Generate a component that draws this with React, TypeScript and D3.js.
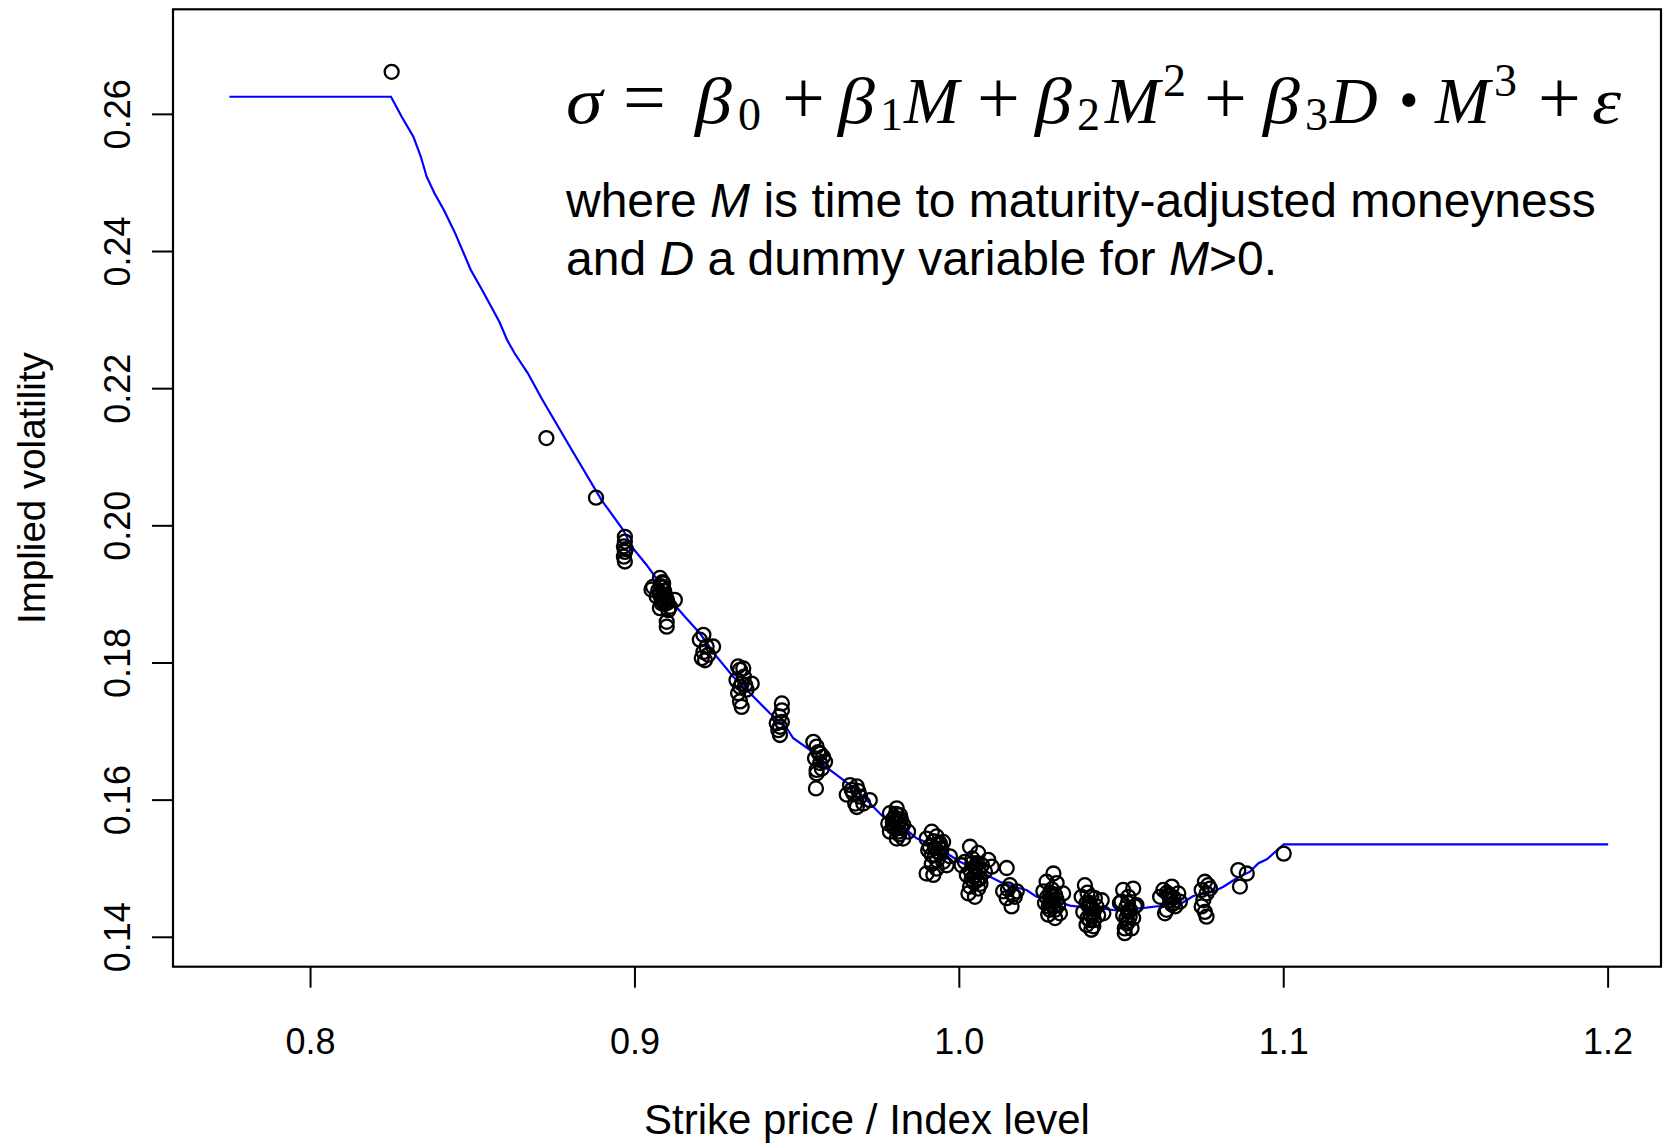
import React from "react";
import * as d3 from "d3";

// ---------- data ----------
const xTicks = [0.8, 0.9, 1.0, 1.1, 1.2];
const xTickLabels = ["0.8", "0.9", "1.0", "1.1", "1.2"];
const yTicks = [0.14, 0.16, 0.18, 0.2, 0.22, 0.24, 0.26];
const yTickLabels = ["0.14", "0.16", "0.18", "0.20", "0.22", "0.24", "0.26"];

// isolated observations (strike / index, implied vol)
const wingObs: [number, number][] = [
  [0.825, 0.2662], [0.8727, 0.2128], [0.888, 0.2041], [1.1, 0.1522],
];
const obsA: [number, number][] = [
  [0.8969, 0.1984], [0.8969, 0.1977], [0.8966, 0.197], [0.8969, 0.1962], [0.8966, 0.1955], [0.8969, 0.1948], [0.8972, 0.1966],
  [0.9051, 0.1907], [0.9077, 0.1924], [0.9087, 0.1916], [0.9056, 0.1911], [0.9067, 0.1897], [0.9072, 0.1906], [0.9082, 0.1887],
  [0.9098, 0.1892], [0.9093, 0.1899], [0.9123, 0.1892], [0.9108, 0.1882], [0.9077, 0.188], [0.9103, 0.1877], [0.9098, 0.186],
  [0.9098, 0.1853], [0.9087, 0.191], [0.9077, 0.19], [0.9092, 0.1886], [0.9085, 0.1918],
  [0.909, 0.1905], [0.9095, 0.1895], [0.9082, 0.1893], [0.91, 0.1888], [0.9088, 0.1889], [0.908, 0.1912],
  [0.92, 0.1834], [0.9211, 0.1841], [0.9221, 0.1824], [0.9241, 0.1824], [0.9206, 0.1807], [0.9226, 0.1812], [0.9211, 0.1816], [0.9216, 0.1804],
];
const obsB: [number, number][] = [
  [0.9318, 0.1795], [0.9334, 0.1792], [0.9324, 0.179], [0.9313, 0.1775], [0.9329, 0.177], [0.936, 0.177], [0.9324, 0.1765],
  [0.9344, 0.1761], [0.9318, 0.1756], [0.9324, 0.1744], [0.9329, 0.1736], [0.9336, 0.178], [0.934, 0.1768],
  [0.9453, 0.1741], [0.9453, 0.1731], [0.9445, 0.1722], [0.9453, 0.1714], [0.9437, 0.1712], [0.9447, 0.1707], [0.9442, 0.1702], [0.9447, 0.1695],
  [0.955, 0.1685], [0.956, 0.1678], [0.9571, 0.1668], [0.9555, 0.1661], [0.9586, 0.1656], [0.958, 0.1663], [0.956, 0.1644],
  [0.9576, 0.1646], [0.956, 0.1639], [0.9571, 0.1654], [0.9558, 0.1617], [0.9565, 0.167],
];
const obsC: [number, number][] = [
  [0.9668, 0.1615], [0.9684, 0.162], [0.9653, 0.1608], [0.9694, 0.1605], [0.9724, 0.16], [0.9679, 0.1595], [0.9704, 0.1595],
  [0.9684, 0.159], [0.9663, 0.1622], [0.9689, 0.1613], [0.9673, 0.161],
  [0.9807, 0.1588], [0.9786, 0.1581], [0.9817, 0.1578], [0.9801, 0.1569], [0.9781, 0.1566], [0.9827, 0.1564], [0.9796, 0.1561],
  [0.9812, 0.1559], [0.9786, 0.1554], [0.9812, 0.1554], [0.9842, 0.1554], [0.9807, 0.1544], [0.9827, 0.1544], [0.98, 0.1575],
  [0.9815, 0.157], [0.9795, 0.1572], [0.982, 0.1562],
  [0.9805, 0.158], [0.981, 0.1565], [0.98, 0.156], [0.9815, 0.155], [0.9795, 0.1567], [0.982, 0.1572],
  [0.9915, 0.1554], [0.9899, 0.1544], [0.993, 0.1547], [0.995, 0.1539], [0.9904, 0.1527], [0.9935, 0.1525], [0.9971, 0.1518],
  [0.995, 0.151], [0.9899, 0.1493], [0.992, 0.1491], [0.9961, 0.1505], [0.994, 0.1537], [0.9909, 0.1532], [0.9925, 0.152],
  [0.9931, 0.1512], [0.9915, 0.1507], [0.9945, 0.1528],
  [0.992, 0.154], [0.9935, 0.1535], [0.9925, 0.153], [0.9915, 0.152], [0.994, 0.1522], [0.993, 0.15],
];
const obsD: [number, number][] = [
  [1.0033, 0.1532], [1.0058, 0.1523], [1.0017, 0.151], [1.0089, 0.1513], [1.0048, 0.1503], [1.0079, 0.1496], [1.0023, 0.1491],
  [1.0064, 0.1486], [1.0033, 0.1474], [1.0058, 0.1471], [1.0028, 0.1464], [1.0048, 0.1459], [1.0007, 0.1505], [1.01, 0.1503],
  [1.004, 0.1515], [1.0055, 0.1508], [1.007, 0.1505], [1.0035, 0.1497], [1.005, 0.149], [1.0045, 0.148], [1.0065, 0.1478],
  [1.004, 0.1508], [1.005, 0.15], [1.006, 0.1495], [1.0045, 0.1488], [1.0055, 0.1483], [1.0038, 0.1485],
  [1.0146, 0.1501], [1.0156, 0.1476], [1.0135, 0.1467], [1.0177, 0.1467], [1.0146, 0.1457], [1.0171, 0.1459], [1.0161, 0.1445],
  [1.015, 0.147], [1.0165, 0.1462],
  [1.029, 0.1493], [1.0269, 0.1481], [1.03, 0.1479], [1.0259, 0.1467], [1.032, 0.1464], [1.0285, 0.1459], [1.0264, 0.145],
  [1.0305, 0.1447], [1.0279, 0.144], [1.031, 0.1435], [1.0274, 0.1433], [1.0295, 0.1428], [1.0285, 0.147], [1.0295, 0.1462],
  [1.028, 0.1452], [1.029, 0.1445], [1.027, 0.1458], [1.03, 0.1455],
  [1.028, 0.1465], [1.029, 0.1455], [1.0285, 0.1448], [1.0295, 0.144], [1.0275, 0.1445],
];
const obsE: [number, number][] = [
  [1.0387, 0.1476], [1.0377, 0.1459], [1.0407, 0.1459], [1.0439, 0.1454], [1.0392, 0.145], [1.0423, 0.1445], [1.0382, 0.1437],
  [1.0413, 0.1435], [1.0444, 0.1435], [1.0402, 0.1425], [1.0392, 0.1418], [1.0413, 0.1416], [1.0407, 0.1411], [1.0418, 0.1457],
  [1.0428, 0.1432], [1.04, 0.1445], [1.0395, 0.1465],
  [1.04, 0.145], [1.041, 0.1442], [1.0405, 0.1432], [1.0395, 0.1428], [1.0415, 0.1425],
  [1.0505, 0.1469], [1.0536, 0.1471], [1.0521, 0.1459], [1.0495, 0.145], [1.0546, 0.1447], [1.0526, 0.144], [1.0505, 0.1432],
  [1.0536, 0.1428], [1.0516, 0.142], [1.051, 0.1413], [1.0531, 0.1413], [1.05, 0.1452], [1.0541, 0.1445], [1.0521, 0.1437],
  [1.051, 0.1406], [1.0515, 0.1428],
  [1.052, 0.145], [1.0515, 0.1444], [1.0525, 0.143], [1.052, 0.1422],
  [1.0629, 0.1469], [1.0655, 0.1474], [1.0675, 0.1464], [1.0619, 0.1459], [1.065, 0.1454], [1.068, 0.1452], [1.0639, 0.144],
  [1.0665, 0.1445], [1.0634, 0.1435], [1.0645, 0.1462], [1.066, 0.1458], [1.0655, 0.1448],
  [1.064, 0.1465], [1.065, 0.146], [1.066, 0.145],
  [1.0757, 0.1481], [1.0767, 0.1476], [1.0747, 0.1469], [1.0762, 0.1464], [1.0752, 0.1454], [1.0747, 0.1445], [1.0757, 0.1437],
  [1.0762, 0.143], [1.0773, 0.1471],
  [1.086, 0.1498], [1.0886, 0.1493], [1.0865, 0.1474],
];

// fitted smile (blue line)
const fitLine: [number, number][] = [
  [0.775, 0.26257], [0.8248, 0.26257], [0.8281, 0.25966], [0.8317, 0.25674], [0.834, 0.25382], [0.8358, 0.25091],
  [0.8382, 0.24849], [0.8411, 0.24605], [0.8446, 0.24265], [0.8494, 0.2373], [0.8529, 0.23438], [0.8582, 0.22976],
  [0.8606, 0.2271], [0.8629, 0.22516], [0.867, 0.22224], [0.8712, 0.2186], [0.88, 0.21149], [0.8897, 0.20376],
  [0.8964, 0.19939], [0.899, 0.19696], [0.9036, 0.19429], [0.9077, 0.19162], [0.9118, 0.1887], [0.9154, 0.18675],
  [0.92, 0.18433], [0.9252, 0.18092], [0.9303, 0.178], [0.9355, 0.17558], [0.9416, 0.17266], [0.9468, 0.17048],
  [0.9488, 0.16902], [0.954, 0.16731], [0.9555, 0.16585], [0.9601, 0.1644], [0.9642, 0.16294], [0.9683, 0.16148],
  [0.9724, 0.15954], [0.9765, 0.15759], [0.9807, 0.15662], [0.9838, 0.15565], [0.9868, 0.15444], [0.992, 0.15346],
  [0.9961, 0.15225], [1.0002, 0.15102], [1.0043, 0.15006], [1.0084, 0.14908], [1.0125, 0.14811], [1.0166, 0.14738],
  [1.0207, 0.1469], [1.0238, 0.14592], [1.0289, 0.14544], [1.0341, 0.14461], [1.0392, 0.14432], [1.0433, 0.14423],
  [1.0474, 0.14398], [1.0495, 0.14388], [1.0536, 0.14413], [1.0577, 0.14432], [1.0618, 0.14456], [1.0649, 0.14496],
  [1.069, 0.1451], [1.0721, 0.14602], [1.0783, 0.14665], [1.0814, 0.14738], [1.0855, 0.1486], [1.0896, 0.14957],
  [1.0922, 0.15079], [1.0948, 0.15137], [1.1, 0.15356], [1.2, 0.15356],
];

// formula pieces: text, kind, x offset (px from formula start)
const formulaPieces: { t: string; k: "g" | "o" | "b" | "sub" | "sup" | "i"; dx: number }[] = [
  { t: "σ", k: "g", dx: 0 },
  { t: "=", k: "o", dx: 57 },
  { t: "β", k: "g", dx: 129 },
  { t: "0", k: "sub", dx: 172 },
  { t: "+", k: "o", dx: 216 },
  { t: "β", k: "g", dx: 272 },
  { t: "1", k: "sub", dx: 314 },
  { t: "M", k: "i", dx: 338 },
  { t: "+", k: "o", dx: 411 },
  { t: "β", k: "g", dx: 469 },
  { t: "2", k: "sub", dx: 511 },
  { t: "M", k: "i", dx: 539 },
  { t: "2", k: "sup", dx: 597 },
  { t: "+", k: "o", dx: 638 },
  { t: "β", k: "g", dx: 697 },
  { t: "3", k: "sub", dx: 739 },
  { t: "D", k: "i", dx: 764 },
  { t: "•", k: "b", dx: 833 },
  { t: "M", k: "i", dx: 869 },
  { t: "3", k: "sup", dx: 928 },
  { t: "+", k: "o", dx: 972 },
  { t: "ε", k: "g", dx: 1026 },
];

// ---------- layout ----------
const W = 1664;
const H = 1144;
const frame = { left: 173, right: 1661, top: 9.3, bottom: 966.7 };
const sans = "'Liberation Sans', Arial, Helvetica, sans-serif";
const serif = "'Liberation Serif', 'Times New Roman', serif";

export default function App() {
  const x = d3.scaleLinear().domain([0.7576, 1.2163]).range([frame.left, frame.right]);
  const y = d3.scaleLinear().domain([0.13571, 0.27532]).range([frame.bottom, frame.top]);
  const line = d3.line<[number, number]>().x((d) => x(d[0])).y((d) => y(d[1]));
  const allObs = [...wingObs, ...obsA, ...obsB, ...obsC, ...obsD, ...obsE];
  const fx = 566;
  const fy = 123;

  const renderPiece = (p: (typeof formulaPieces)[number], i: number) => {
    const px = fx + p.dx;
    switch (p.k) {
      case "g":
        return (
          <text key={i} transform={`translate(${px},${fy}) scale(1.12,1)`} fontSize={66} fontStyle="italic" fontFamily={serif}>
            {p.t}
          </text>
        );
      case "i":
        return (
          <text key={i} x={px} y={fy} fontSize={66} fontStyle="italic" fontFamily={serif}>
            {p.t}
          </text>
        );
      case "o":
        return (
          <text key={i} x={px} y={fy} fontSize={76} fontFamily={serif}>
            {p.t}
          </text>
        );
      case "b":
        return (
          <text key={i} x={px} y={fy - 4} fontSize={56} fontFamily={serif}>
            {p.t}
          </text>
        );
      case "sub":
        return (
          <text key={i} x={px} y={fy + 7} fontSize={46} fontFamily={serif}>
            {p.t}
          </text>
        );
      default:
        return (
          <text key={i} x={px} y={fy - 27} fontSize={46} fontFamily={serif}>
            {p.t}
          </text>
        );
    }
  };

  return (
    <svg
      width={W}
      height={H}
      viewBox={`0 0 ${W} ${H}`}
      style={{ position: "absolute", left: 0, top: 0, background: "#fff", display: "block" }}
    >
      <rect x={0} y={0} width={W} height={H} fill="#fff" />
      {/* fitted line */}
      <path d={line(fitLine) || ""} fill="none" stroke="#0000ff" strokeWidth={2.2} />
      {/* observations */}
      <g fill="none" stroke="#000" strokeWidth={2.3}>
        {allObs.map((d, i) => (
          <circle key={i} cx={x(d[0])} cy={y(d[1])} r={7} />
        ))}
      </g>
      {/* frame */}
      <rect
        x={frame.left}
        y={frame.top}
        width={frame.right - frame.left}
        height={frame.bottom - frame.top}
        fill="none"
        stroke="#000"
        strokeWidth={2.2}
      />
      {/* x axis */}
      <g>
        {xTicks.map((t, i) => (
          <g key={i}>
            <line x1={x(t)} x2={x(t)} y1={frame.bottom} y2={frame.bottom + 21} stroke="#000" strokeWidth={2} />
            <text x={x(t)} y={1054} textAnchor="middle" fontFamily={sans} fontSize={36} fill="#000">
              {xTickLabels[i]}
            </text>
          </g>
        ))}
      </g>
      {/* y axis */}
      <g>
        {yTicks.map((t, i) => (
          <g key={i}>
            <line x1={frame.left - 21} x2={frame.left} y1={y(t)} y2={y(t)} stroke="#000" strokeWidth={2} />
            <text
              transform={`translate(130,${y(t)}) rotate(-90)`}
              textAnchor="middle"
              fontFamily={sans}
              fontSize={36}
              fill="#000"
            >
              {yTickLabels[i]}
            </text>
          </g>
        ))}
      </g>
      {/* axis titles */}
      <text x={867} y={1134} textAnchor="middle" fontFamily={sans} fontSize={42} fill="#000">
        Strike price / Index level
      </text>
      <text
        transform={`translate(45,488) rotate(-90)`}
        textAnchor="middle"
        fontFamily={sans}
        fontSize={38.5}
        fill="#000"
      >
        Implied volatility
      </text>
      {/* formula */}
      <g fill="#000">{formulaPieces.map(renderPiece)}</g>
      {/* explanation */}
      <text x={566} y={217} fontFamily={sans} fontSize={48} fill="#000">
        where <tspan fontStyle="italic">M</tspan> is time to maturity-adjusted moneyness
      </text>
      <text x={566} y={275} fontFamily={sans} fontSize={48} fill="#000">
        and <tspan fontStyle="italic">D</tspan> a dummy variable for <tspan fontStyle="italic">M</tspan>&gt;0.
      </text>
    </svg>
  );
}
